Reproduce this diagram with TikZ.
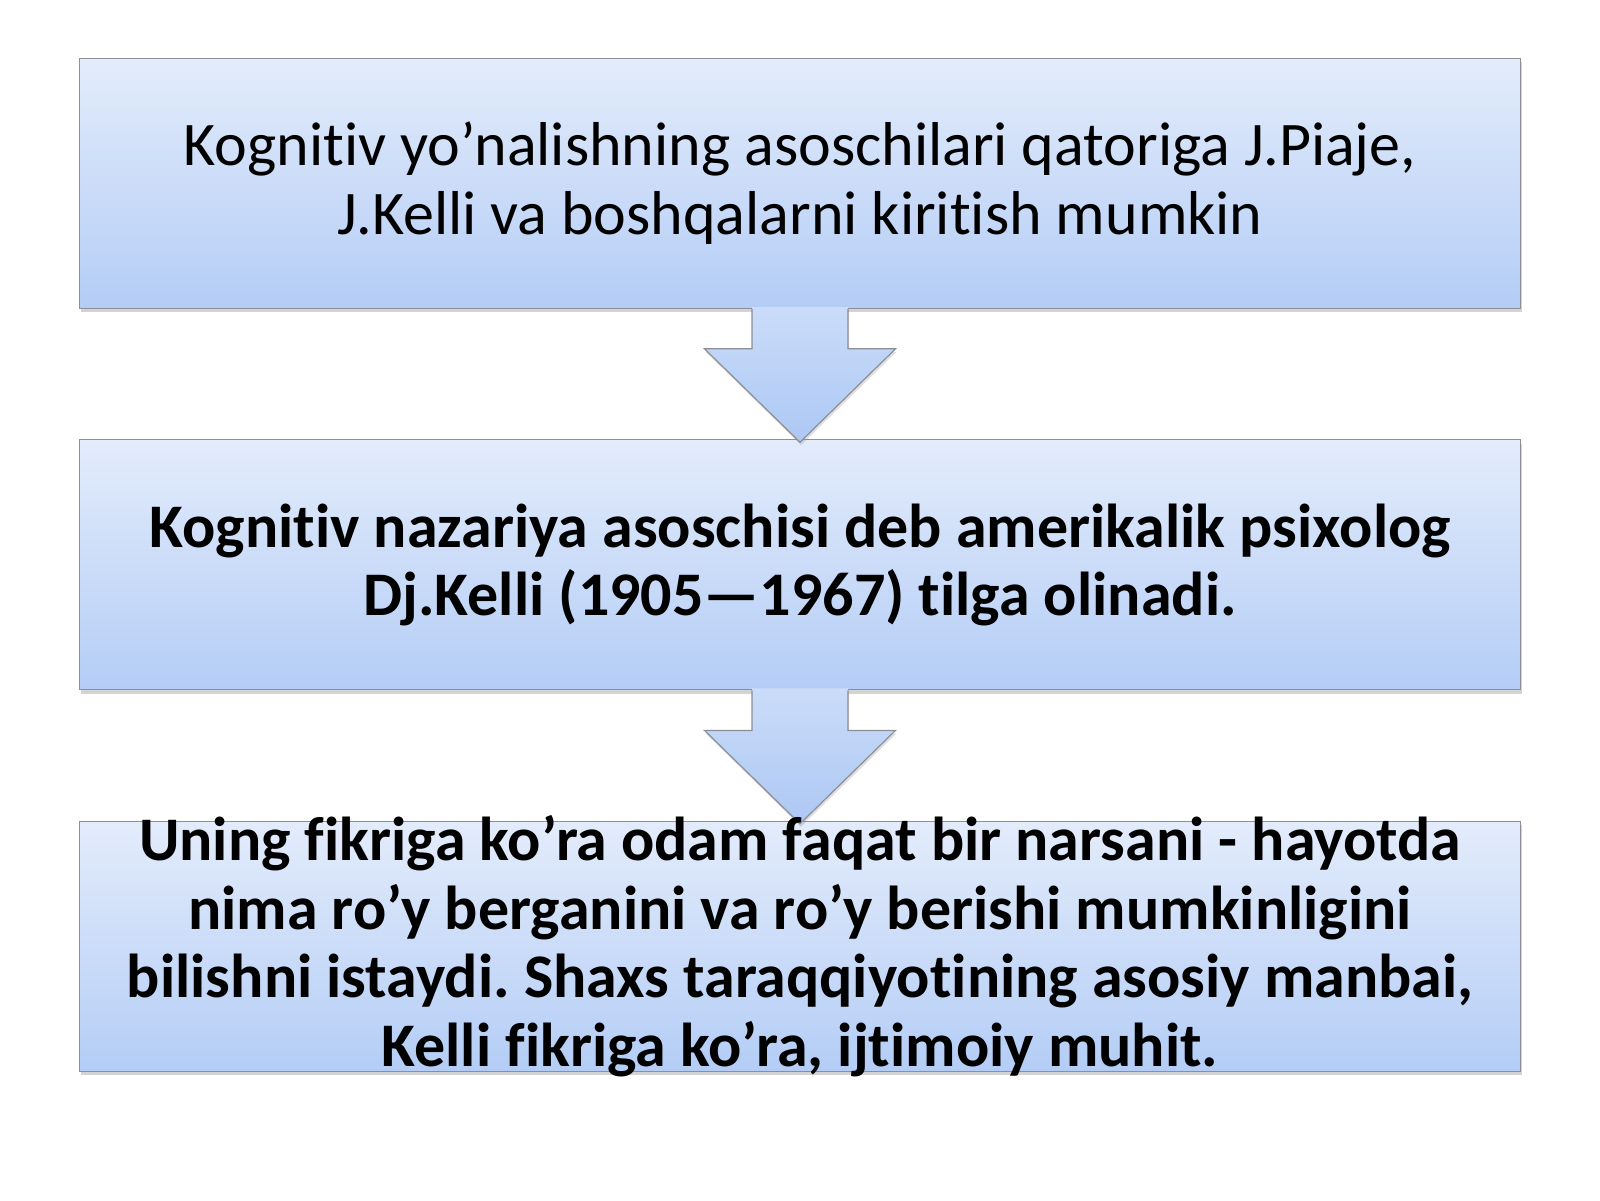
\documentclass[tikz,border=0pt]{standalone}
\usepackage{fontspec}
\setmainfont[Ligatures=NoCommon]{Carlito}
\usetikzlibrary{calc,shadows}
\frenchspacing

\definecolor{boxtop}{HTML}{E3ECFB}
\definecolor{boxbot}{HTML}{B4CDF6}
\definecolor{arrowtop}{HTML}{CADCF9}
\definecolor{arrowbot}{HTML}{ADC8F4}
\definecolor{edge}{HTML}{8C8F96}

\tikzset{
  flowbox/.style={draw=edge, line width=1.2pt, top color=boxtop, bottom color=boxbot,
    minimum width=1441pt, minimum height=250pt, inner sep=0pt,
    drop shadow={shadow xshift=1pt, shadow yshift=-4pt, opacity=0.35}},
  arrowfill/.style={top color=arrowtop, bottom color=arrowbot,
    drop shadow={shadow xshift=1pt, shadow yshift=-3pt, opacity=0.25}},
  arrowline/.style={draw=edge, line width=1.2pt, line join=miter},
  flowtext/.style={align=center, text=black, inner sep=0pt, font=\fontsize{62}{68.5}\selectfont},
}

\begin{document}
\begin{tikzpicture}[x=1pt, y=-1pt]
  \useasboundingbox (0,0) rectangle (1600,1200);

  % boxes
  \node[flowbox] (b1) at (800,183.2) {};
  \node[flowbox] (b2) at (800,564.8) {};
  \node[flowbox] (b3) at (800,946.4) {};

  % block arrows
  \path[arrowfill] ($(b1.south)+(-48,-2)$) -- ($(b1.south)+(-48,40)$) -- ($(b1.south)+(-95.5,40)$)
    -- ($(b2.north)+(0,3)$) -- ($(b1.south)+(95.5,40)$) -- ($(b1.south)+(48,40)$) -- ($(b1.south)+(48,-2)$) -- cycle;
  \draw[arrowline] ($(b1.south)+(-48,0)$) -- ($(b1.south)+(-48,40)$) -- ($(b1.south)+(-95.5,40)$)
    -- ($(b2.north)+(0,3)$) -- ($(b1.south)+(95.5,40)$) -- ($(b1.south)+(48,40)$) -- ($(b1.south)+(48,0)$);
  \path[arrowfill] ($(b2.south)+(-48,-2)$) -- ($(b2.south)+(-48,40)$) -- ($(b2.south)+(-95.5,40)$)
    -- ($(b3.north)+(0,3)$) -- ($(b2.south)+(95.5,40)$) -- ($(b2.south)+(48,40)$) -- ($(b2.south)+(48,-2)$) -- cycle;
  \draw[arrowline] ($(b2.south)+(-48,0)$) -- ($(b2.south)+(-48,40)$) -- ($(b2.south)+(-95.5,40)$)
    -- ($(b3.north)+(0,3)$) -- ($(b2.south)+(95.5,40)$) -- ($(b2.south)+(48,40)$) -- ($(b2.south)+(48,0)$);

  % texts
  \node[flowtext] (t1) at (b1.center) {Kognitiv yo’nalishning asoschilari qatoriga J.Piaje,\\J.Kelli va boshqalarni kiritish mumkin};
  \node[flowtext, font=\fontsize{62}{68.5}\selectfont\bfseries] (t2) at (b2.center)
    {Kognitiv nazariya asoschisi deb amerikalik psixolog\\Dj.Kelli (1905—1967) tilga olinadi.};
  \node[flowtext, font=\fontsize{62}{68.5}\selectfont\bfseries] (t3) at (b3.center)
    {Uning fikriga ko’ra odam faqat bir narsani - hayotda\\nima ro’y berganini va ro’y berishi mumkinligini\\bilishni istaydi. Shaxs taraqqiyotining asosiy manbai,\\Kelli fikriga ko’ra, ijtimoiy muhit.};
\end{tikzpicture}
\end{document}
